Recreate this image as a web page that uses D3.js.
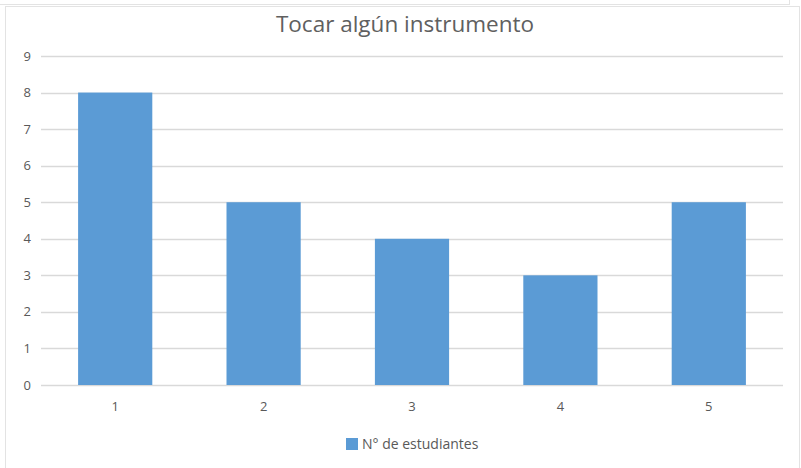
<!DOCTYPE html>
<html>
<head>
<meta charset="utf-8">
<script src="https://cdn.jsdelivr.net/npm/d3@7"></script>
<style>
  body { margin: 0; background: #fff; }
  text { font-family: "Open Sans", "Liberation Sans", sans-serif; fill: #595959; }
</style>
</head>
<body>
<svg id="chart" width="801" height="468"></svg>
<script>
// Data
var categories = ["1", "2", "3", "4", "5"];
var values = [8, 5, 4, 3, 5];
var yTicks = [0, 1, 2, 3, 4, 5, 6, 7, 8, 9];
var seriesName = "N° de estudiantes";
var chartTitle = "Tocar algún instrumento";

var margin = {top: 56, right: 18, bottom: 83, left: 41};

var svg = d3.select("#chart"),
  width = +svg.attr("width") - margin.left - margin.right,
  height = +svg.attr("height") - margin.top - margin.bottom;

// frame lines (spreadsheet cell edge + chart border)
svg.append("line")
  .attr("x1", 0).attr("x2", 790).attr("y1", 4.5).attr("y2", 4.5)
  .style("stroke", "#e3e3e3");
svg.append("line")
  .attr("x1", 789.5).attr("x2", 789.5).attr("y1", 0).attr("y2", 5)
  .style("stroke", "#e3e3e3");
svg.append("rect")
  .attr("x", 5.5).attr("y", 6.5).attr("width", 794).attr("height", 470)
  .style("fill", "none")
  .style("stroke", "#e3e3e3");

var g = svg.append("g")
  .attr("transform", "translate(" + margin.left + "," + margin.top + ")");

var x = d3.scaleBand()
  .domain(categories)
  .range([0, width])
  .paddingInner(0.5)
  .paddingOuter(0.25);

var y = d3.scaleLinear()
  .domain([0, 9])
  .range([height, 0]);

// gridlines
g.append("g")
  .selectAll("line")
  .data(yTicks)
  .enter()
  .append("line")
    .attr("x1", 0)
    .attr("x2", width)
    .attr("y1", function(d) { return Math.round(y(d)) + 0.5; })
    .attr("y2", function(d) { return Math.round(y(d)) + 0.5; })
    .style("stroke", "#d9d9d9")
    .style("stroke-width", 1.3);

// y labels
g.append("g")
  .selectAll("text")
  .data(yTicks)
  .enter()
  .append("text")
    .attr("x", -10)
    .attr("y", function(d) { return y(d); })
    .attr("dy", "0.35em")
    .attr("text-anchor", "end")
    .style("font-size", "13px")
    .text(function(d) { return d; });

// bars
g.append("g")
  .selectAll("rect")
  .data(values)
  .enter()
  .append("rect")
    .attr("x", function(d, i) { return x(categories[i]); })
    .attr("y", function(d) { return y(d); })
    .attr("width", x.bandwidth())
    .attr("height", function(d) { return height - y(d); })
    .style("fill", "#5b9bd5");

// x labels
g.append("g")
  .selectAll("text")
  .data(categories)
  .enter()
  .append("text")
    .attr("x", function(d) { return x(d) + x.bandwidth() / 2; })
    .attr("y", height + 21)
    .attr("dy", "0.35em")
    .attr("text-anchor", "middle")
    .style("font-size", "13px")
    .text(function(d) { return d; });

// title
svg.append("text")
  .attr("x", 405)
  .attr("y", 24)
  .attr("dy", "0.35em")
  .attr("text-anchor", "middle")
  .style("font-size", "22.5px")
  .style("fill", "#606060")
  .text(chartTitle);

// legend
var legend = svg.append("g").attr("transform", "translate(346,438)");
legend.append("rect")
  .attr("width", 12).attr("height", 12)
  .style("fill", "#5b9bd5");
legend.append("text")
  .attr("x", 16)
  .attr("y", 6)
  .attr("dy", "0.35em")
  .style("font-size", "14px")
  .text(seriesName);
</script>
</body>
</html>
